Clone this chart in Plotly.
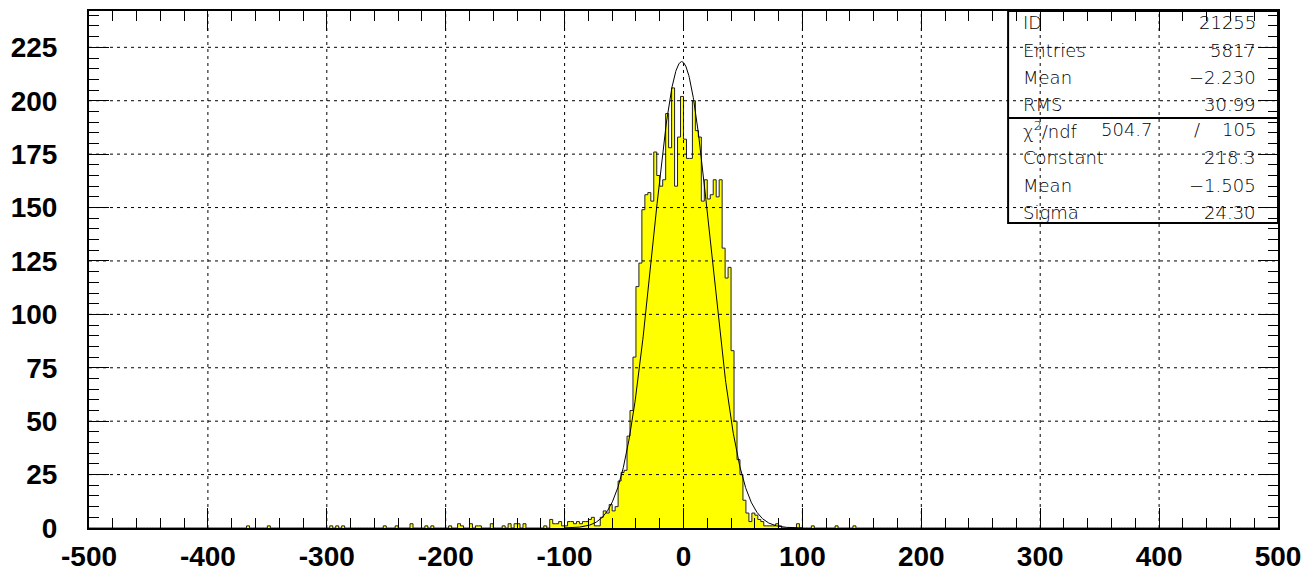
import numpy as np
import plotly.graph_objects as go

# ---------------- data ----------------
x_min, x_max = -500.0, 500.0
bin_width = 2.5
y_max = 242

# nonzero bins: index k means bin [2.5*k, 2.5*k + 2.5]
bin_index = [-147, -140, -119, -117, -115, -101, -97, -92, -87, -85, -79, -76, -75,
             -72, -70, -69, -65, -61, -59, -57, -56, -54, -47, -45, -44, -43, -42,
             -41, -40, -39, -38, -37, -36, -35, -34, -33, -32, -31, -30, -29, -28,
             -27, -26, -25, -24, -23, -22, -21, -20, -19, -18, -17, -16, -15, -14,
             -13, -12, -11, -10, -9, -8, -7, -6, -5, -4, -3, -2, -1, 0, 1, 2, 3, 4,
             5, 6, 7, 8, 9, 10, 11, 12, 13, 14, 15, 16, 17, 18, 19, 20, 21, 22, 23,
             24, 25, 26, 27, 28, 29, 30, 31, 32, 38, 43, 51, 57]
bin_counts = [1, 1, 1, 1, 1, 1, 1, 2, 1, 1, 1, 2, 1,
              2, 1, 1, 2, 1, 2, 2, 2, 2, 1, 4, 2, 2, 3,
              1, 1, 3, 3, 2, 3, 2, 3, 3, 4, 5, 1, 1, 5,
              8, 7, 11, 8, 10, 22, 26, 27, 43, 55, 80, 113, 124, 149,
              156, 157, 153, 176, 165, 160, 163, 194, 178, 206, 160, 183, 202, 182, 173, 173, 200, 186,
              183, 153, 163, 154, 156, 163, 155, 163, 131, 117, 122, 83, 50, 32, 25, 13, 7, 3, 7,
              6, 4, 3, 1, 1, 1, 1, 2, 1, 2, 1, 1, 1]

fit_constant = 218.3
fit_mean = -1.505
fit_sigma = 24.30
fit_range = [-100.0, 100.0]

stats_labels = ["ID", "Entries", "Mean", "RMS"]
stats_values = ["21255", "5817", "\u22122.230", "30.99"]
chi2_text = "504.7"
ndf_text = "105"
fit_labels = ["Constant", "Mean", "Sigma"]
fit_values = ["218.3", "\u22121.505", "24.30"]

x_tick_vals = [-500, -400, -300, -200, -100, 0, 100, 200, 300, 400, 500]
x_tick_text = ["-500", "-400", "-300", "-200", "-100", "0", "100", "200", "300", "400", "500"]
y_tick_vals = [0, 25, 50, 75, 100, 125, 150, 175, 200, 225]
y_tick_text = ["0", "25", "50", "75", "100", "125", "150", "175", "200", "225"]

# ---------------- build histogram ----------------
nbins = int(round((x_max - x_min) / bin_width))
counts = np.zeros(nbins)
offset = int(round(-x_min / bin_width))
for k, c in zip(bin_index, bin_counts):
    counts[k + offset] = c
edges = x_min + bin_width * np.arange(nbins + 1)
step_y = np.append(counts, counts[-1])

fit_x = np.linspace(fit_range[0], fit_range[1], 600)
fit_y = fit_constant * np.exp(-0.5 * ((fit_x - fit_mean) / fit_sigma) ** 2)

fig = go.Figure()
fig.add_trace(go.Scatter(
    x=edges, y=step_y, mode="lines", line_shape="hv",
    line=dict(color="#222222", width=1), fill="tozeroy", fillcolor="#FFFF00",
    hoverinfo="skip", showlegend=False))
fig.add_trace(go.Scatter(
    x=fit_x, y=fit_y, mode="lines", line=dict(color="black", width=1),
    hoverinfo="skip", showlegend=False))

# grid lines (dashed) drawn above the histogram
shapes = []
for xv in x_tick_vals[1:-1]:
    shapes.append(dict(type="line", xref="x", yref="y", x0=xv, x1=xv, y0=0, y1=y_max,
                       line=dict(color="black", width=1, dash="3px,4px"), layer="above"))
for yv in y_tick_vals[1:]:
    shapes.append(dict(type="line", xref="x", yref="y", x0=x_min, x1=x_max, y0=yv, y1=yv,
                       line=dict(color="black", width=1, dash="3px,4px"), layer="above"))

# stats box
bx0, by0, bsep = 0.773, 0.590, 0.793
shapes.append(dict(type="rect", xref="paper", yref="paper", x0=bx0, x1=1, y0=by0, y1=1,
                   line=dict(color="black", width=2), fillcolor="rgba(0,0,0,0)", layer="above"))
shapes.append(dict(type="line", xref="paper", yref="paper", x0=bx0, x1=1, y0=bsep, y1=bsep,
                   line=dict(color="black", width=2), layer="above"))

ann = []
sfont = dict(family="DejaVu Sans", size=18, color="black", weight=200)
row_y = [0.977, 0.924, 0.872, 0.820, 0.770, 0.716, 0.663, 0.611]
lab_x, val_x = 0.784, 0.983
for i, (l, v) in enumerate(zip(stats_labels, stats_values)):
    ann.append(dict(x=lab_x, y=row_y[i], xref="paper", yref="paper", text=l, showarrow=False,
                    xanchor="left", yanchor="middle", font=sfont))
    ann.append(dict(x=val_x, y=row_y[i], xref="paper", yref="paper", text=v, showarrow=False,
                    xanchor="right", yanchor="middle", font=sfont))
ann.append(dict(x=lab_x, y=row_y[4], xref="paper", yref="paper", text="\u03c7<sup>2</sup>/ndf",
                showarrow=False, xanchor="left", yanchor="middle", font=sfont))
ann.append(dict(x=0.8966, y=row_y[4], xref="paper", yref="paper", text=chi2_text,
                showarrow=False, xanchor="right", yanchor="middle", font=sfont))
ann.append(dict(x=0.932, y=row_y[4], xref="paper", yref="paper", text="/",
                showarrow=False, xanchor="center", yanchor="middle", font=sfont))
ann.append(dict(x=val_x, y=row_y[4], xref="paper", yref="paper", text=ndf_text,
                showarrow=False, xanchor="right", yanchor="middle", font=sfont))
for i, (l, v) in enumerate(zip(fit_labels, fit_values)):
    ann.append(dict(x=lab_x, y=row_y[5 + i], xref="paper", yref="paper", text=l, showarrow=False,
                    xanchor="left", yanchor="middle", font=sfont))
    ann.append(dict(x=val_x, y=row_y[5 + i], xref="paper", yref="paper", text=v, showarrow=False,
                    xanchor="right", yanchor="middle", font=sfont))

tfont = dict(family="Liberation Sans", size=28, color="black", weight="bold")
fig.update_layout(
    width=1313, height=573,
    margin=dict(l=89, r=35, t=11, b=45),
    paper_bgcolor="white", plot_bgcolor="white",
    shapes=shapes, annotations=ann,
    xaxis=dict(range=[x_min, x_max], tickmode="array", tickvals=x_tick_vals, ticktext=x_tick_text,
               ticks="inside", ticklen=20, tickwidth=1, tickcolor="black",
               showline=True, linewidth=2, linecolor="black", mirror="ticks",
               showgrid=False, zeroline=False, layer="above traces", automargin=False,
               minor=dict(dtick=20, ticks="inside", ticklen=10, tickwidth=1, tickcolor="black", showgrid=False),
               tickfont=tfont, ticklabelstandoff=2),
    yaxis=dict(range=[0, y_max], tickmode="array", tickvals=y_tick_vals, ticktext=y_tick_text,
               ticks="inside", ticklen=20, tickwidth=1, tickcolor="black",
               showline=True, linewidth=2, linecolor="black", mirror="ticks",
               showgrid=False, zeroline=False, layer="above traces", automargin=False,
               minor=dict(dtick=5, ticks="inside", ticklen=10, tickwidth=1, tickcolor="black", showgrid=False),
               tickfont=tfont, ticklabelstandoff=24),
)

fig.write_html("out.html")
